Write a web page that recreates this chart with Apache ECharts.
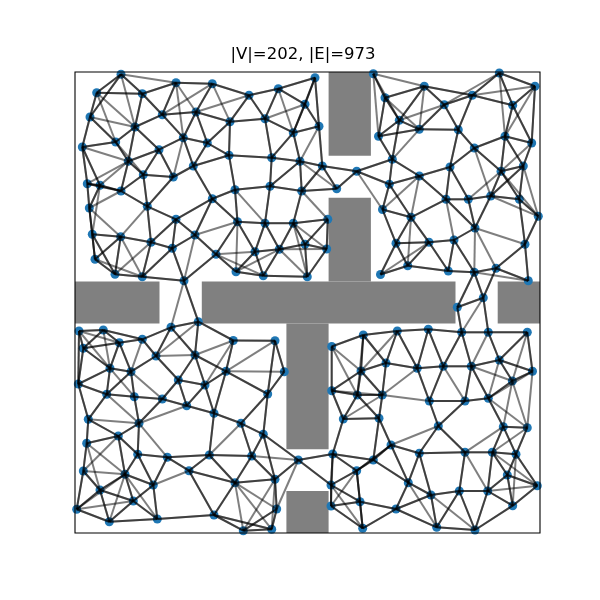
<!DOCTYPE html>
<html>
<head>
<meta charset="utf-8">
<script src="https://cdn.jsdelivr.net/npm/echarts@6/dist/echarts.min.js"></script>
<style>html,body{margin:0;padding:0;background:#fff;}#c{width:600px;height:600px;}</style>
</head>
<body>
<div id="c"></div>
<script>
// Map extent (map units), graph parameter, title
const mapWidth = 465, mapHeight = 461;
const kNeighbors = 5;
const titleText = '|V|=202, |E|=973';

// Node coordinates (map units, y measured from the top)
const nodeX = [
  46.0, 21.7, 67.3, 101.0, 137.3, 15.0, 87.3, 121.0, 155.0, 60.0, 108.3, 7.3, 40.7, 132.3, 84.0, 154.0, 53.3, 118.3, 68.3, 98.3, 12.3, 25.0, 46.0, 137.3, 14.3, 72.3, 101.0,
  240.0, 203.3, 174.0, 230.0, 190.0, 218.3, 244.0, 196.7, 225.0, 247.3, 281.7, 303.5, 298.3, 310.0, 160.0, 195.0, 226.7, 261.7, 307.5, 162.5, 190.0, 218.3, 252.8,
  349.3, 424.3, 460.0, 397.3, 369.3, 437.7, 324.3, 344.3, 383.3, 430.0, 456.7, 399.3, 317.3, 375.0, 448.3, 426.0, 344.3, 314.3, 371.0, 393.3, 415.7, 444.3, 463.3, 336.0, 400.0,
  17.3, 45.7, 76.0, 97.3, 120.0, 141.0, 20.0, 40.0, 67.3, 109.0, 123.3, 96.0, 4.0, 28.3, 44.3, 67.3, 8.3, 81.0, 120.0, 35.0, 56.0, 151.0,
  180.0, 204.3, 230.0, 251.7, 161.0, 188.3, 232.3, 305.5, 158.3, 200.0, 256.7, 288.3, 286.0, 209.3,
  321.0, 354.0, 379.0, 450.0, 332.7, 373.3, 399.3, 421.0, 453.3, 408.3, 382.3, 322.3, 353.3, 386.7, 413.3, 452.3, 311.0, 342.3, 368.3, 396.3, 424.3, 457.5,
  3.3, 31.7, 59.3, 87.3, 103.3, 130.0, 111.7, 139.0, 13.3, 64.0, 43.3, 11.7, 62.7, 92.3, 134.3, 8.3, 50.0, 114.0, 25.0, 78.3, 58.3, 1.7, 34.3, 82.3, 139.0,
  166.0, 188.3, 192.7, 176.7, 223.3, 160.0, 200.0, 201.7, 168.3, 196.7, 256.7, 282.3, 307.3, 268.3, 304.0, 257.7, 298.3, 281.7, 256.0, 285.0, 256.0, 287.7,
  437.3, 354.3, 390.0, 413.3, 363.3, 428.3, 452.3, 316.0, 344.3, 390.0, 417.3, 441.0, 432.3, 462.3, 333.3, 356.0, 384.3, 412.7, 437.7, 321.0, 361.7, 400.0
];
const nodeY = [
  2.3, 20.7, 21.7, 10.7, 11.7, 45.0, 42.7, 40.0, 49.7, 55.0, 65.7, 75.0, 70.0, 71.0, 77.7, 83.3, 89.3, 94.0, 102.7, 105.0, 111.7, 113.3, 119.0, 126.7, 136.0, 134.3, 147.3,
  5.7, 16.7, 23.3, 32.3, 46.7, 60.7, 54.3, 85.7, 89.3, 94.0, 99.3, 64.3, 1.7, 25.7, 117.7, 114.3, 119.0, 116.7, 137.5, 149.8, 151.2, 151.2, 147.3,
  14.3, 1.0, 14.3, 23.3, 32.7, 33.3, 48.3, 57.3, 57.7, 64.3, 71.0, 76.0, 87.3, 95.0, 94.0, 99.3, 104.0, 112.3, 127.3, 127.3, 124.0, 127.3, 144.3, 145.3, 156.0,
  162.3, 164.7, 170.3, 176.3, 163.0, 182.3, 187.3, 202.3, 204.7, 208.7, 249.7, 255.3, 259.0, 258.0, 270.7, 267.3, 276.3, 284.0, 283.0, 296.3, 299.7, 299.3,
  179.7, 177.3, 172.3, 177.0, 199.7, 203.7, 204.7, 202.5, 268.5, 268.7, 274.5, 263.0, 299.0, 299.7,
  171.3, 170.3, 168.0, 172.3, 193.7, 199.0, 200.3, 196.3, 208.8, 225.7, 235.3, 259.0, 257.3, 260.3, 260.3, 260.3, 291.0, 296.3, 294.3, 294.3, 288.0, 299.3,
  312.0, 322.3, 324.7, 327.0, 308.0, 313.0, 333.7, 341.3, 347.3, 351.3, 364.0, 371.3, 382.3, 385.3, 383.0, 399.0, 402.3, 398.7, 418.0, 413.0, 429.0, 437.3, 449.7, 447.0, 443.0,
  351.3, 362.3, 322.0, 384.0, 388.0, 410.7, 407.3, 437.0, 458.7, 457.3, 318.7, 323.0, 323.0, 347.0, 346.3, 382.0, 388.0, 398.7, 413.0, 429.7, 434.0, 456.3,
  309.0, 329.0, 329.0, 326.3, 354.0, 354.7, 355.7, 373.0, 381.3, 380.3, 380.3, 382.3, 403.0, 413.7, 410.7, 423.0, 419.0, 419.0, 433.7, 437.0, 455.3, 458.0
];

// Obstacles (map units): [x0, y0, x1, y1]
const obstacles = [
  [253.6, 0.0, 295.9, 83.8],
  [253.6, 125.7, 295.9, 209.5],
  [126.8, 209.5, 380.5, 251.5],
  [0.0, 209.5, 84.5, 251.5],
  [422.7, 209.5, 465.0, 251.5],
  [211.4, 251.5, 253.6, 377.2],
  [211.4, 419.1, 253.6, 461.0]
];

// Segment vs rectangle (Liang-Barsky)
function segHitsRect(ax, ay, bx, by, r) {
  let t0 = 0, t1 = 1;
  const dx = bx - ax, dy = by - ay;
  const p = [-dx, dx, -dy, dy];
  const q = [ax - r[0], r[2] - ax, ay - r[1], r[3] - ay];
  for (let i = 0; i < 4; i++) {
    if (p[i] === 0) {
      if (q[i] < 0) return false;
    } else {
      const t = q[i] / p[i];
      if (p[i] < 0) { if (t > t1) return false; if (t > t0) t0 = t; }
      else { if (t < t0) return false; if (t < t1) t1 = t; }
    }
  }
  return true;
}

// Directed k-nearest-neighbour roadmap edges, dropping colliding ones
const edges = [];
const n = nodeX.length;
for (let i = 0; i < n; i++) {
  const cand = [];
  for (let j = 0; j < n; j++) {
    if (j === i) continue;
    const dx = nodeX[j] - nodeX[i], dy = nodeY[j] - nodeY[i];
    cand.push([dx * dx + dy * dy, j]);
  }
  cand.sort((a, b) => a[0] - b[0]);
  for (let m = 0; m < kNeighbors; m++) {
    const j = cand[m][1];
    let hit = false;
    for (const r of obstacles) {
      if (segHitsRect(nodeX[i], nodeY[i], nodeX[j], nodeY[j], r)) { hit = true; break; }
    }
    if (!hit) edges.push([nodeX[i], nodeY[i], nodeX[j], nodeY[j]]);
  }
}

const points = nodeX.map((x, i) => [x, nodeY[i]]);

const chart = echarts.init(document.getElementById('c'), null, { renderer: 'canvas' });
chart.setOption({
  animation: false,
  backgroundColor: '#fff',
  grid: { left: 75, top: 72, width: 465, height: 461, show: true, borderColor: '#000', borderWidth: 1.1, backgroundColor: 'transparent', z: 10 },
  xAxis: { type: 'value', min: 0, max: mapWidth, show: false },
  yAxis: { type: 'value', min: 0, max: mapHeight, inverse: true, show: false },
  graphic: [{
    type: 'text', x: 303, y: 55, z: 100,
    style: { text: titleText, font: '16.5px "DejaVu Sans"', fill: '#000', textAlign: 'center', textVerticalAlign: 'middle', align: 'center', verticalAlign: 'middle' }
  }],
  series: [
    {
      type: 'custom', z: 1, silent: true, clip: false,
      data: obstacles,
      renderItem: function (params, api) {
        const a = api.coord([api.value(0), api.value(1)]);
        const b = api.coord([api.value(2), api.value(3)]);
        return { type: 'rect', shape: { x: Math.min(a[0], b[0]), y: Math.min(a[1], b[1]), width: Math.abs(b[0] - a[0]), height: Math.abs(b[1] - a[1]) }, style: { fill: '#808080' } };
      }
    },
    {
      type: 'scatter', z: 2, silent: true,
      data: points, symbolSize: 9,
      itemStyle: { color: '#1f77b4', opacity: 1 }
    },
    {
      type: 'custom', z: 3, silent: true, clip: false,
      data: edges,
      renderItem: function (params, api) {
        const a = api.coord([api.value(0), api.value(1)]);
        const b = api.coord([api.value(2), api.value(3)]);
        return { type: 'line', shape: { x1: a[0], y1: a[1], x2: b[0], y2: b[1] }, style: { stroke: 'rgba(0,0,0,0.5)', lineWidth: 2, fill: null } };
      }
    }
  ]
});
</script>
</body>
</html>
